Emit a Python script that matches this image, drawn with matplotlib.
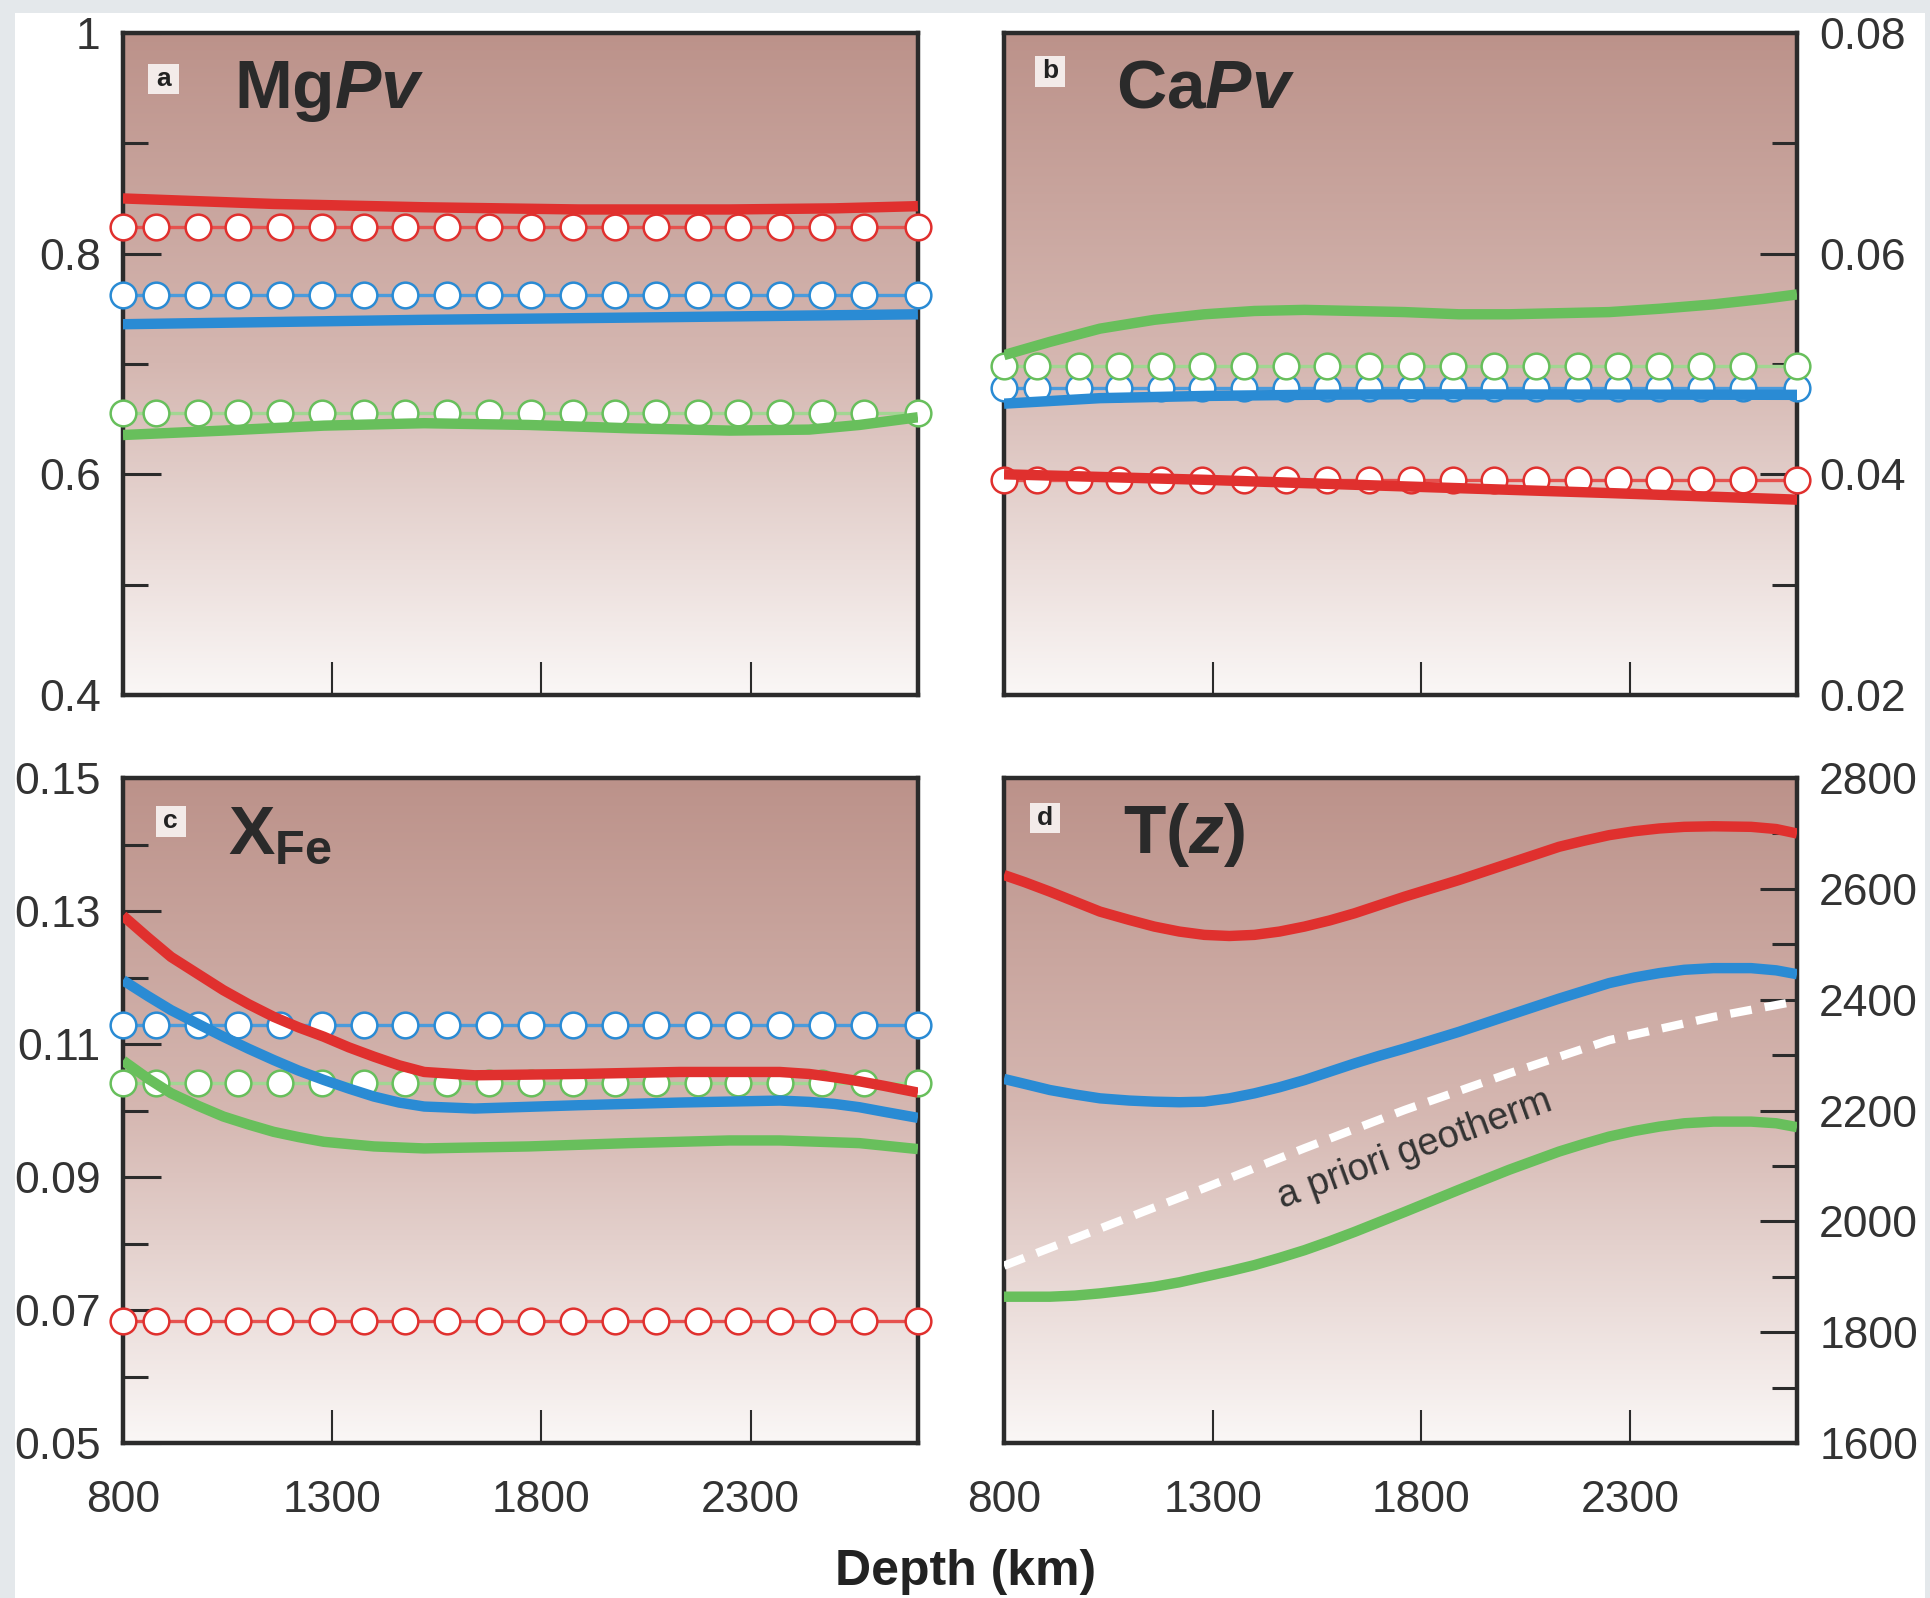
import numpy as np
import matplotlib.pyplot as plt
from matplotlib.colors import LinearSegmentedColormap
from matplotlib.patches import Rectangle

plt.rcParams['font.family'] = ['Liberation Sans', 'DejaVu Sans']
plt.rcParams['mathtext.fontset'] = 'custom'
plt.rcParams['mathtext.rm'] = 'Liberation Sans'
plt.rcParams['mathtext.bf'] = 'Liberation Sans:bold'
plt.rcParams['mathtext.it'] = 'Liberation Sans:italic'
plt.rcParams['mathtext.bfit'] = 'Liberation Sans:bold:italic'

# ---- data ----
x_ticks = [800, 1300, 1800, 2300]
x_ticklabels = ['800', '1300', '1800', '2300']

# depths of the open-circle (starting model) markers
circ_depth = [800, 880, 980, 1075, 1175, 1275, 1375, 1475, 1575, 1675,
              1775, 1875, 1975, 2075, 2175, 2270, 2370, 2470, 2570, 2700]

# (a) MgPv
a_red_depth = [800, 1160, 1520, 1890, 2250, 2500, 2700]
a_red = [0.850, 0.845, 0.842, 0.840, 0.840, 0.841, 0.843]
a_blue_depth = [800, 1520, 2010, 2700]
a_blue = [0.736, 0.740, 0.742, 0.745]
a_green_depth = [800, 1040, 1280, 1520, 1770, 2010, 2250, 2440, 2560, 2700]
a_green = [0.6356, 0.6396, 0.6441, 0.6463, 0.6447, 0.6417, 0.6396, 0.6405, 0.6447, 0.6517]
a_circ = {'red': 0.8245, 'blue': 0.7625, 'green': 0.6553}

# (b) CaPv
b_green_depth = [800, 910, 1030, 1160, 1280, 1400, 1520, 1640, 1760, 1890,
                 2010, 2130, 2250, 2370, 2500, 2620, 2700]
b_green = [0.0508, 0.0520, 0.0532, 0.0540, 0.0545, 0.0548, 0.0549, 0.0548, 0.0547,
           0.0545, 0.0545, 0.0546, 0.0547, 0.0550, 0.0554, 0.0559, 0.0563]
b_blue_depth = [800, 1030, 1280, 1520, 1760, 2700]
b_blue = [0.0464, 0.0469, 0.0471, 0.0472, 0.04725, 0.0472]
b_red_depth = [800, 1280, 1760, 2250, 2700]
b_red = [0.0400, 0.0395, 0.0389, 0.0383, 0.0377]
b_circ = {'red': 0.0395, 'blue': 0.0478, 'green': 0.0498}

# (c) XFe
c_depth = [800, 860, 915, 980, 1040, 1100, 1160, 1220, 1280, 1340, 1400, 1460,
           1520, 1640, 1890, 2130, 2370, 2440, 2500, 2560, 2620, 2700]
c_red = [0.1293, 0.1260, 0.1231, 0.1205, 0.1181, 0.1160, 0.1141, 0.1125, 0.1111,
         0.1095, 0.1081, 0.1068, 0.1058, 0.1053, 0.1055, 0.1058, 0.1058, 0.1055,
         0.1050, 0.1044, 0.1037, 0.1027]
c_blue = [0.1196, 0.1172, 0.1151, 0.1130, 0.1111, 0.1093, 0.1076, 0.1060, 0.1046,
          0.1033, 0.1021, 0.1012, 0.1006, 0.1003, 0.1008, 0.1012, 0.1015, 0.1013,
          0.1010, 0.1005, 0.0998, 0.0989]
c_green_depth = [800, 860, 915, 980, 1040, 1100, 1160, 1220, 1280, 1400, 1520,
                 1770, 2010, 2250, 2370, 2560, 2700]
c_green = [0.1075, 0.1048, 0.1026, 0.1007, 0.0991, 0.0979, 0.0968, 0.0960, 0.0953,
           0.0946, 0.0943, 0.0946, 0.0951, 0.0955, 0.0955, 0.0951, 0.0942]
c_circ = {'red': 0.0684, 'blue': 0.1129, 'green': 0.1042}

# (d) T(z)
d_depth = [800, 850, 910, 970, 1030, 1100, 1160, 1220, 1280, 1340, 1400, 1460,
           1520, 1580, 1640, 1700, 1760, 1890, 2010, 2130, 2190, 2250, 2310,
           2370, 2430, 2500, 2590, 2650, 2700]
d_red = [2625, 2612, 2595, 2577, 2559, 2544, 2532, 2523, 2517, 2515, 2517, 2523,
         2532, 2543, 2556, 2571, 2586, 2616, 2646, 2676, 2687, 2697, 2704,
         2709, 2712, 2713, 2712, 2708, 2700]
d_blue = [2257, 2248, 2237, 2229, 2222, 2218, 2216, 2215, 2216, 2222, 2231, 2242,
          2255, 2270, 2285, 2299, 2312, 2342, 2372, 2402, 2416, 2430, 2440,
          2448, 2454, 2457, 2457, 2453, 2446]
d_green = [1864, 1864, 1864, 1866, 1870, 1876, 1882, 1890, 1900, 1910, 1921, 1934,
           1948, 1964, 1981, 1999, 2017, 2057, 2093, 2126, 2140, 2153, 2163,
           2171, 2177, 2180, 2180, 2177, 2170]
geo_depth = [800, 1030, 1280, 1520, 1760, 2010, 2250, 2500, 2690]
geo_T = [1920, 1987, 2060, 2132, 2201, 2267, 2327, 2369, 2396]

COLORS = {'red': '#e0302e', 'blue': '#2a8bd4', 'green': '#68bf5c'}
CIRC_LINE = {'red': '#e6524f', 'blue': '#4a9bdc', 'green': '#a2d692'}
INK = '#2b2b2b'
LABEL = '#333333'

bg_cmap = LinearSegmentedColormap.from_list('bg', ['#bc928a', '#d5b7b1', '#faf7f6'])


def style_axes(ax, side, ylim, yticks, ylabels, yminor, show_xlabels):
    # gradient background filling the axes
    grad = np.linspace(0, 1, 256).reshape(-1, 1)
    ax.imshow(grad, extent=[0, 1, 0, 1], transform=ax.transAxes, aspect='auto',
              cmap=bg_cmap, zorder=0, interpolation='bicubic')
    ax.set_xlim(800, 2700)
    ax.set_ylim(*ylim)
    for sp in ax.spines.values():
        sp.set_linewidth(3.2)
        sp.set_color(INK)
    ax.set_xticks(x_ticks)
    ax.set_xticklabels(x_ticklabels if show_xlabels else [])
    ax.tick_params(axis='x', which='major', direction='in', length=24, width=1.5,
                   pad=27, labelsize=32, labelcolor=LABEL, color=INK,
                   top=False, bottom=True)
    ax.set_yticks(yticks)
    ax.set_yticklabels(ylabels)
    ax.set_yticks(yminor, minor=True)
    left = side == 'left'
    ax.tick_params(axis='y', which='both', direction='in', width=2.2, color=INK,
                   left=left, right=not left, labelleft=left, labelright=not left,
                   labelsize=32, labelcolor=LABEL, pad=16)
    ax.tick_params(axis='y', which='major', length=27)
    ax.tick_params(axis='y', which='minor', length=18)


def panel_tag(ax, letter, x, y, title, tx, ty):
    ax.add_patch(Rectangle((x - 0.019, y - 0.023), 0.038, 0.046, transform=ax.transAxes,
                           facecolor='#f3ebe9', edgecolor='none', zorder=6))
    ax.text(x, y, letter, transform=ax.transAxes, ha='center', va='center',
            fontsize=19, fontweight='bold', color='#222222', zorder=7)
    ax.text(tx, ty, title, transform=ax.transAxes, ha='left', va='baseline',
            fontsize=50, color='#2a2a2a', zorder=7)


def circle_line(ax, level, key):
    ax.plot(circ_depth, np.full(len(circ_depth), level), '-o', color=CIRC_LINE[key],
            lw=2.4, ms=18.5, mfc='white', mec=COLORS[key], mew=1.8,
            clip_on=False, zorder=4)


def solid(ax, x, y, key):
    ax.plot(x, y, color=COLORS[key], lw=7.5, solid_capstyle='butt',
            solid_joinstyle='round', zorder=5)


def main():
    fig = plt.figure(figsize=(19.3, 15.98), dpi=100)
    fig.patch.set_facecolor('#e4e8eb')
    fig.add_artist(Rectangle((15 / 1930, 0), 1910 / 1930, 1585 / 1598,
                             transform=fig.transFigure, facecolor='white',
                             edgecolor='none', zorder=-10))

    ax_a = fig.add_axes([0.0637, 0.5651, 0.4119, 0.4143])
    ax_b = fig.add_axes([0.5202, 0.5651, 0.4109, 0.4143])
    ax_c = fig.add_axes([0.0637, 0.0970, 0.4119, 0.4161])
    ax_d = fig.add_axes([0.5202, 0.0970, 0.4109, 0.4161])

    # (a) MgPv
    style_axes(ax_a, 'left', (0.4, 1.0), [0.4, 0.6, 0.8, 1.0],
               ['0.4', '0.6', '0.8', '1'], [0.5, 0.7, 0.9], False)
    for k, v in a_circ.items():
        circle_line(ax_a, v, k)
    solid(ax_a, a_red_depth, a_red, 'red')
    solid(ax_a, a_blue_depth, a_blue, 'blue')
    solid(ax_a, a_green_depth, a_green, 'green')
    panel_tag(ax_a, 'a', 0.051, 0.930, r'$\mathbf{Mg}\mathbfit{Pv}$', 0.140, 0.887)

    # (b) CaPv
    style_axes(ax_b, 'right', (0.02, 0.08), [0.02, 0.04, 0.06, 0.08],
               ['0.02', '0.04', '0.06', '0.08'], [0.03, 0.05, 0.07], False)
    for k, v in b_circ.items():
        circle_line(ax_b, v, k)
    solid(ax_b, b_green_depth, b_green, 'green')
    solid(ax_b, b_blue_depth, b_blue, 'blue')
    solid(ax_b, b_red_depth, b_red, 'red')
    panel_tag(ax_b, 'b', 0.058, 0.942, r'$\mathbf{Ca}\mathbfit{Pv}$', 0.141, 0.887)

    # (c) XFe
    style_axes(ax_c, 'left', (0.05, 0.15), [0.05, 0.07, 0.09, 0.11, 0.13, 0.15],
               ['0.05', '0.07', '0.09', '0.11', '0.13', '0.15'],
               [0.06, 0.08, 0.10, 0.12, 0.14], True)
    for k, v in c_circ.items():
        circle_line(ax_c, v, k)
    solid(ax_c, c_depth, c_red, 'red')
    solid(ax_c, c_depth, c_blue, 'blue')
    solid(ax_c, c_green_depth, c_green, 'green')
    panel_tag(ax_c, 'c', 0.060, 0.935, r'$\mathbf{X_{Fe}}$', 0.132, 0.886)

    # (d) T(z)
    style_axes(ax_d, 'right', (1600, 2800), list(range(1600, 2801, 200)),
               [str(t) for t in range(1600, 2801, 200)],
               list(range(1700, 2800, 200)), True)
    ax_d.plot(geo_depth, geo_T, color='white', lw=6, dashes=(2.6, 1.6),
              dash_capstyle='butt', zorder=5)
    solid(ax_d, d_depth, d_red, 'red')
    solid(ax_d, d_depth, d_blue, 'blue')
    solid(ax_d, d_depth, d_green, 'green')
    ax_d.text(1783, 2129, 'a priori geotherm', rotation=20, rotation_mode='anchor',
              ha='center', va='center', fontsize=27.5, color='#333333', zorder=6)
    panel_tag(ax_d, 'd', 0.052, 0.940, r'$\mathbf{T(}\mathbfit{z}\mathbf{)}$', 0.150, 0.887)

    fig.text(966 / 1930, 1 - 1572 / 1598, 'Depth (km)', ha='center', va='center',
             fontsize=36, fontweight='bold', color='#222222')

    fig.savefig('out.png', dpi=100, facecolor=fig.get_facecolor())


if __name__ == '__main__':
    main()
